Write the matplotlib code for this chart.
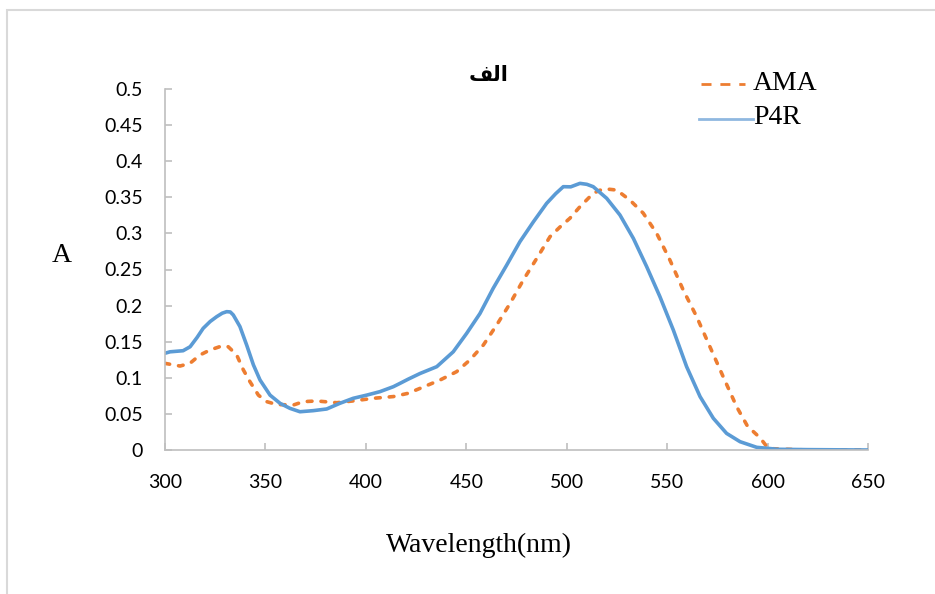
import matplotlib

matplotlib.use("Agg")
import matplotlib.pyplot as plt
from matplotlib.lines import Line2D
from matplotlib.patches import Rectangle

# wavelength (nm) / absorbance
p4r_wl = [300, 302.5, 309, 312.5, 316, 319, 322.5, 325.7, 328.5, 330.7, 332.5, 334,
          337.3, 340.7, 344, 347.3, 352.3, 357.3, 362.2, 367.2, 373.8, 380.5, 387,
          393.7, 400.4, 407, 413.7, 417, 421, 427, 435.3, 443.5, 450.2, 456.8, 463.4,
          470.1, 476.7, 483.4, 490, 494.5, 498.3, 502, 506.6, 510, 513.2, 519.9, 526.5,
          533.2, 539.8, 546.4, 553.1, 559.7, 566.4, 573, 579.6, 586.3, 594.6, 605,
          620, 650]
p4r_abs = [0.134, 0.136, 0.1375, 0.143, 0.156, 0.1685, 0.178, 0.1846, 0.1895, 0.1916,
           0.1912, 0.187, 0.171, 0.145, 0.118, 0.097, 0.076, 0.0646, 0.0577, 0.053,
           0.0545, 0.0568, 0.0646, 0.0716, 0.076, 0.0808, 0.0877, 0.0923, 0.098, 0.106,
           0.1154, 0.136, 0.1616, 0.189, 0.224, 0.256, 0.2885, 0.316, 0.3416, 0.355,
           0.3647, 0.3645, 0.3693, 0.368, 0.3647, 0.3486, 0.3255, 0.293, 0.254, 0.2124,
           0.166, 0.1154, 0.0739, 0.0439, 0.023, 0.0115, 0.0037, 0.001, 0.0005, 0.0]

ama_wl = [300, 307.5, 312.4, 317.4, 322.4, 328.2, 331.5, 335.7, 339, 342.3, 346.5,
          350.6, 355.6, 363.9, 368.9, 375.5, 385.5, 393.8, 403.7, 413.7, 421, 427,
          437, 445.2, 451.8, 458.5, 465.1, 471.8, 478.4, 485.1, 491.7, 496.7, 501.6,
          506.6, 513.2, 516.5, 519.9, 524.9, 531.5, 538.1, 544.8, 551.4, 558, 564.7,
          571.3, 577.9, 584.6, 590, 596.2, 600.4, 610, 620, 650]
ama_abs = [0.120, 0.1163, 0.120, 0.1316, 0.1385, 0.144, 0.143, 0.1316, 0.111, 0.0946,
           0.076, 0.067, 0.063, 0.0623, 0.067, 0.0679, 0.0655, 0.068, 0.0716, 0.074,
           0.0785, 0.0854, 0.097, 0.1085, 0.1247, 0.1454, 0.173, 0.203, 0.2355, 0.2655,
           0.2955, 0.309, 0.321, 0.337, 0.3555, 0.3598, 0.3615, 0.360, 0.346, 0.328,
           0.300, 0.263, 0.2216, 0.1846, 0.143, 0.1015, 0.060, 0.033, 0.017, 0.002,
           0.001, 0.0, 0.0]

x_ticks = [300, 350, 400, 450, 500, 550, 600, 650]
y_ticks = [0, 0.05, 0.1, 0.15, 0.2, 0.25, 0.3, 0.35, 0.4, 0.45, 0.5]
y_tick_labels = ["0", "0.05", "0.1", "0.15", "0.2", "0.25", "0.3", "0.35", "0.4", "0.45", "0.5"]

ORANGE = "#ED7D31"
BLUE = "#5B9BD5"
GREY = "#BFBFBF"
SERIF = ["Liberation Serif", "DejaVu Serif"]

fig = plt.figure(figsize=(9.35, 5.94), dpi=100)
fig.patches.append(Rectangle((7 / 935, -0.1), 1.2, (594 - 10) / 594 + 0.1,
                             transform=fig.transFigure, fill=False,
                             edgecolor="#D9D9D9", linewidth=1.5))

ax = fig.add_axes([165 / 935, (594 - 450) / 594, 703 / 935, 361 / 594])
ax.plot(ama_wl, ama_abs, color=ORANGE, linewidth=2.6, dashes=(1.3, 2.5),
        dash_capstyle="round")
ax.plot(p4r_wl, p4r_abs, color=BLUE, linewidth=2.6, solid_joinstyle="round")

ax.set_xlim(300, 650)
ax.set_ylim(0, 0.5)
ax.set_xticks(x_ticks)
ax.set_yticks(y_ticks)
ax.set_yticklabels(y_tick_labels)
for s in ["top", "right"]:
    ax.spines[s].set_visible(False)
for s in ["left", "bottom"]:
    ax.spines[s].set_color(GREY)
    ax.spines[s].set_linewidth(1.2)
ax.tick_params(direction="in", length=5, width=1.2, color=GREY,
               labelsize=14, labelcolor="black")
ax.tick_params(axis="y", pad=16)
ax.tick_params(axis="x", pad=17)
for lab in ax.get_xticklabels() + ax.get_yticklabels():
    lab.set_family(["Lato", "DejaVu Sans"])

fig.text(62 / 935, 1 - 256 / 594, "A", family=SERIF, fontsize=20,
         ha="center", va="center")
fig.text(479 / 935, 1 - 545 / 594, "Wavelength(nm)", family=SERIF, fontsize=20,
         ha="center", va="center")
# Arabic title "الف" written with its joined presentation forms
fig.text(489 / 935, 1 - 75 / 594, "\uFED2\uFEDF\uFE8D", family=["DejaVu Sans"],
         fontsize=15, fontweight="bold", ha="center", va="center")

# legend
fig.add_artist(Line2D([701 / 935, 745 / 935], [1 - 84 / 594] * 2, color=ORANGE,
                      linewidth=2.0, dashes=(3.6, 3.2), transform=fig.transFigure))
fig.add_artist(Line2D([699 / 935, 753 / 935], [1 - 119 / 594] * 2, color="#8FB8E0",
                      linewidth=2.0, transform=fig.transFigure))
fig.text(753 / 935, 1 - 84 / 594, "AMA", family=SERIF, fontsize=20, va="center")
fig.text(753 / 935, 1 - 118 / 594, "P4R", family=SERIF, fontsize=20, va="center")

fig.savefig("out.png", dpi=100)
